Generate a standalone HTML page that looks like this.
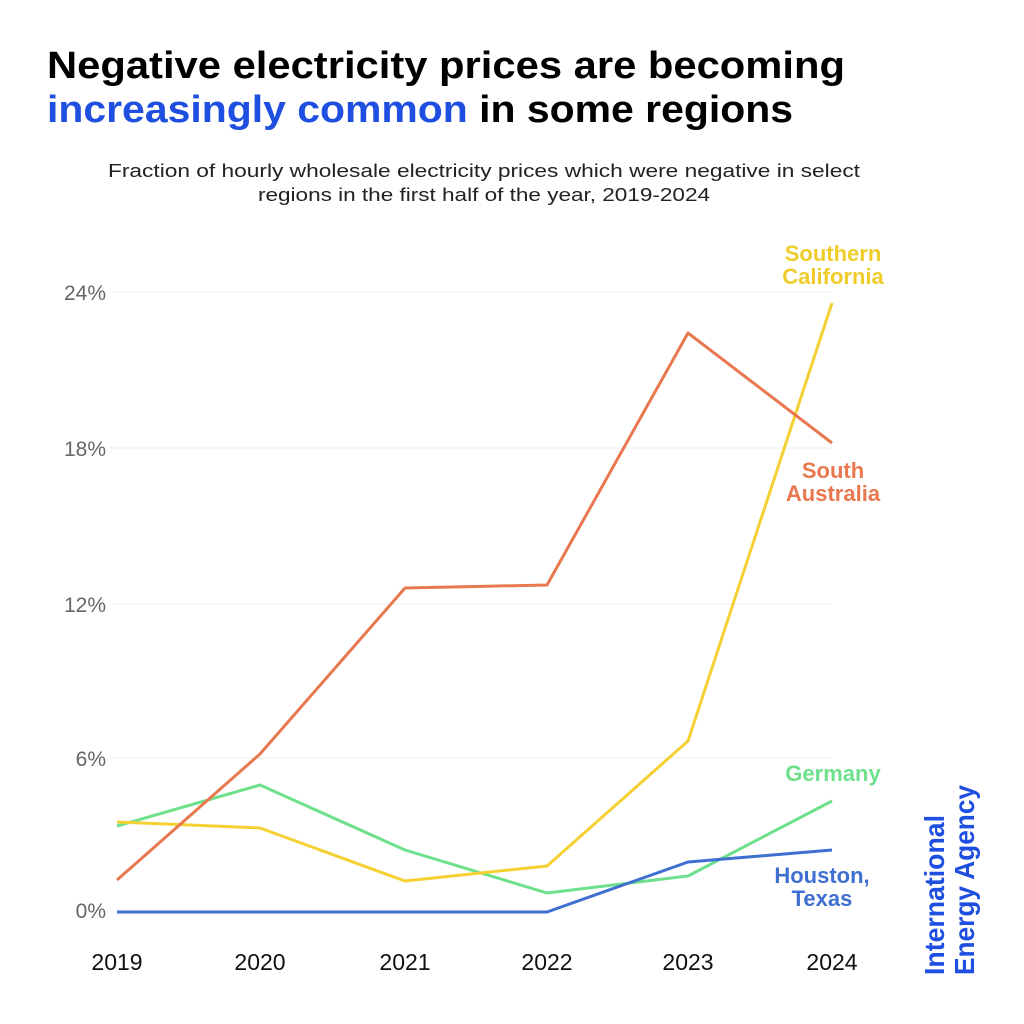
<!DOCTYPE html>
<html><head><meta charset="utf-8"><style>
html,body{margin:0;padding:0;background:#fff}
svg{display:block}
text{font-family:"Liberation Sans",sans-serif}
</style></head><body>
<svg width="1024" height="1024" viewBox="0 0 1024 1024">
<rect width="1024" height="1024" fill="#fff"/>
<text x="47" y="78" font-size="38" font-weight="bold" fill="#000" textLength="798" lengthAdjust="spacingAndGlyphs">Negative electricity prices are becoming</text>
<text x="47" y="122" font-size="38" font-weight="bold" textLength="746" lengthAdjust="spacingAndGlyphs"><tspan fill="#1f4fe0">increasingly common</tspan><tspan fill="#000"> in some regions</tspan></text>
<text x="108" y="177" font-size="18" fill="#222" textLength="752" lengthAdjust="spacingAndGlyphs">Fraction of hourly wholesale electricity prices which were negative in select</text>
<text x="258" y="201" font-size="18" fill="#222" textLength="452" lengthAdjust="spacingAndGlyphs">regions in the first half of the year, 2019-2024</text>
<g stroke="#ececec" stroke-width="1">
<line x1="110" x2="832" y1="292" y2="292"/><line x1="110" x2="832" y1="448" y2="448"/>
<line x1="110" x2="832" y1="604" y2="604"/><line x1="110" x2="832" y1="758" y2="758"/>
</g>
<g font-size="21" fill="#666" text-anchor="end">
<text x="106" y="300">24%</text><text x="106" y="456">18%</text><text x="106" y="612">12%</text><text x="106" y="766">6%</text><text x="106" y="918">0%</text>
</g>
<g font-size="23" fill="#111" text-anchor="middle">
<text x="117" y="970">2019</text><text x="260" y="970">2020</text><text x="405" y="970">2021</text><text x="547" y="970">2022</text><text x="688" y="970">2023</text><text x="832" y="970">2024</text>
</g>
<g fill="none" stroke-width="3" stroke-linejoin="round">
<polyline stroke="#6ee08c" points="117,826 260,785 405,850 547,893 688,876 832,801"/>
<polyline stroke="#f5d033" points="117,822 260,828 405,881 547,866 688,741 832,303"/>
<polyline stroke="#e8784f" points="117,880 260,754 405,588 547,585 688,333 832,443"/>
<polyline stroke="#3f6fd0" points="117,912 547,912 688,862 832,850"/>
</g>
<g font-size="22" font-weight="bold" text-anchor="middle">
<text x="833" y="261" fill="#f0cc2a">Southern</text><text x="833" y="284" fill="#f0cc2a">California</text>
<text x="833" y="478" fill="#e8784f">South</text><text x="833" y="501" fill="#e8784f">Australia</text>
<text x="833" y="781" fill="#6ee08c">Germany</text>
<text x="822" y="883" fill="#3f6fd0">Houston,</text><text x="822" y="906" fill="#3f6fd0">Texas</text>
</g>
<g font-size="28" font-weight="bold" fill="#1f4fe0">
<text transform="translate(944,975) rotate(-90)" textLength="160" lengthAdjust="spacingAndGlyphs">International</text>
<text transform="translate(974,975) rotate(-90)" textLength="190" lengthAdjust="spacingAndGlyphs">Energy Agency</text>
</g>
</svg>
</body></html>
